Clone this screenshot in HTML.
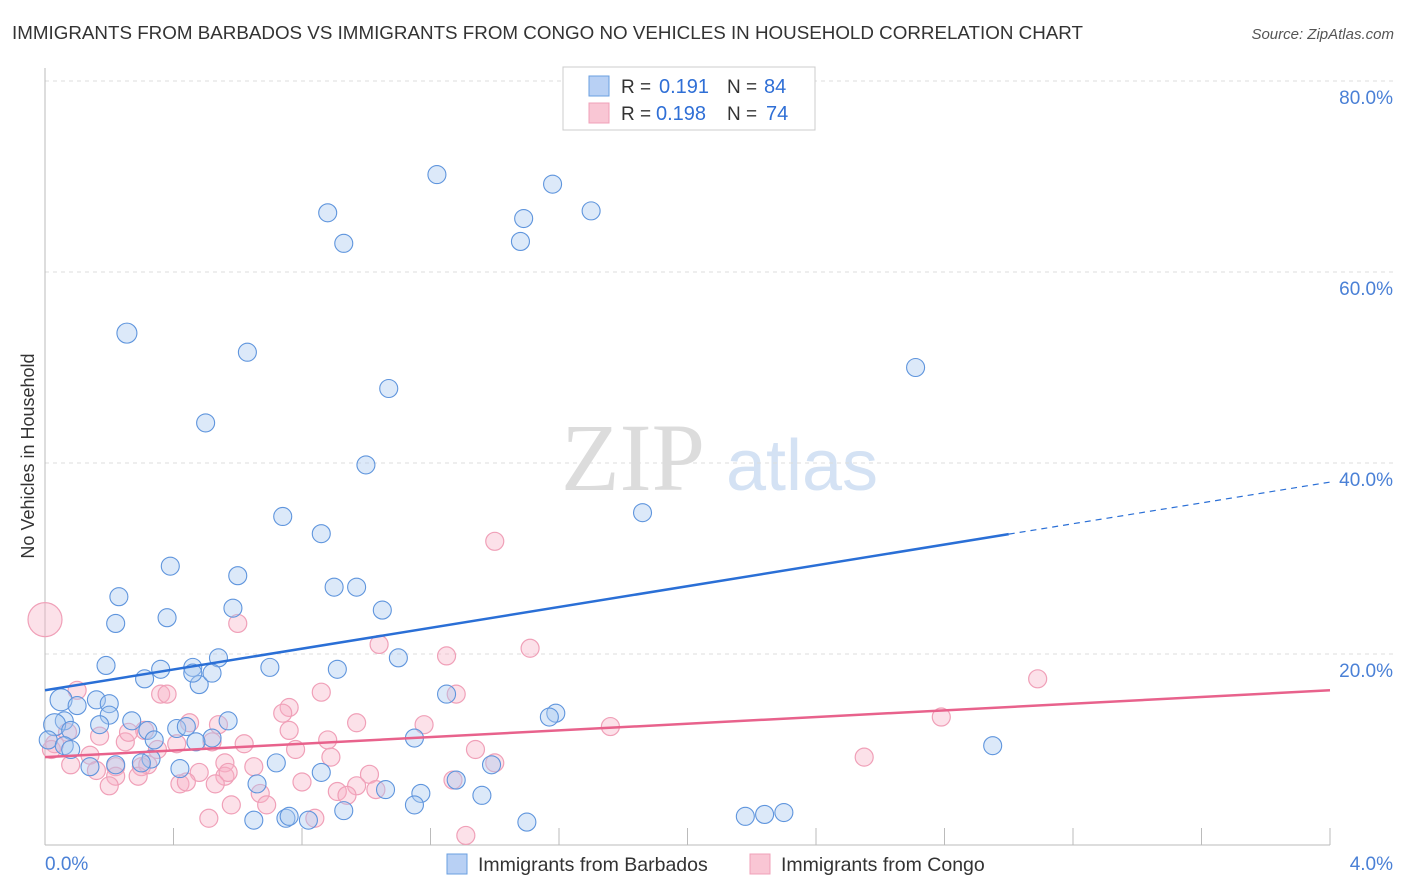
<!DOCTYPE html>
<html><head><meta charset="utf-8"><style>
body{margin:0;background:#fff;font-family:"Liberation Sans",sans-serif}
</style></head><body>
<svg id="c" width="1406" height="892" xmlns="http://www.w3.org/2000/svg" style="position:absolute;left:0;top:0">
<text x="12" y="39" font-size="18.5" fill="#333" textLength="1071" lengthAdjust="spacingAndGlyphs">IMMIGRANTS FROM BARBADOS VS IMMIGRANTS FROM CONGO NO VEHICLES IN HOUSEHOLD CORRELATION CHART</text>
<text x="1394" y="39" font-size="15" fill="#555" font-style="italic" text-anchor="end">Source: ZipAtlas.com</text>
<g>
<text x="633" y="490" font-size="96" fill="#dcdcdc" font-family="Liberation Serif,serif" text-anchor="middle">ZIP</text>
<text x="802" y="490" font-size="72" fill="#d4e2f4" text-anchor="middle">atlas</text></g>
<g id="grid"></g><g id="axes"></g><g id="pts"></g><g id="trend"></g>
<text transform="translate(34,456) rotate(-90)" font-size="18" fill="#333" text-anchor="middle">No Vehicles in Household</text>
<g>
<rect x="563" y="67" width="252" height="63" fill="#fff" stroke="#ccc"/>
<rect x="589" y="76" width="20" height="20" fill="#b8d0f4" stroke="#6a9fe0"/>
<rect x="589" y="103" width="20" height="20" fill="#f9c6d4" stroke="#f0a0b8"/>
<text x="621" y="93" font-size="19" fill="#333">R =</text><text x="659" y="93" font-size="20" fill="#2f6fd6">0.191</text>
<text x="727" y="93" font-size="19" fill="#333">N =</text><text x="764" y="93" font-size="20" fill="#2f6fd6">84</text>
<text x="621" y="120" font-size="19" fill="#333">R =</text><text x="656" y="120" font-size="20" fill="#2f6fd6">0.198</text>
<text x="727" y="120" font-size="19" fill="#333">N =</text><text x="766" y="120" font-size="20" fill="#2f6fd6">74</text>
</g>
<g>
<rect x="447" y="854" width="20" height="20" fill="#b8d0f4" stroke="#6a9fe0"/>
<text x="478" y="871" font-size="19.5" fill="#333">Immigrants from Barbados</text>
<rect x="750" y="854" width="20" height="20" fill="#f9c6d4" stroke="#f0a0b8"/>
<text x="781" y="871" font-size="19.5" fill="#333">Immigrants from Congo</text>
</g>
</svg>
<script>
const xTicks=[0,4];
const yTicks=[20,40,60,80];
const blueX=[0.255,1.22,1.58,1.70,0.88,1.49,1.48,0.93,0.63,2.71,1.07,0.50,0.999,1.86,0.74,0.86,0.39,0.60,0.90,0.97,0.23,0.585,1.05,0.38,0.22,1.10,0.19,0.54,0.70,0.91,0.36,0.46,0.31,0.48,0.52,1.59,1.57,1.25,0.05,0.16,0.10,0.20,0.20,0.27,0.06,0.03,0.08,0.57,0.17,0.32,0.41,0.44,1.15,2.95,0.52,0.47,0.34,0.01,0.06,0.08,0.33,0.30,0.14,0.22,0.42,0.72,0.86,1.39,0.66,1.06,1.28,1.17,1.15,1.36,0.93,0.75,0.65,0.76,0.82,1.50,2.18,2.24,2.30,0.46];
const blueY=[53.6,70.2,69.2,66.4,66.2,65.6,63.2,63.0,51.6,50.0,47.8,44.2,39.8,34.8,34.4,32.6,29.2,28.2,27.0,27.0,26.0,24.8,24.6,23.8,23.2,19.6,18.8,19.6,18.6,18.4,18.4,18.6,17.4,16.8,18.0,13.8,13.4,15.8,15.2,15.2,14.6,14.8,13.6,13.0,13.0,12.6,12.0,13.0,12.6,12.0,12.2,12.4,11.2,10.4,11.2,10.8,11.0,11.0,10.4,10.0,9.0,8.6,8.2,8.4,8.0,8.6,7.6,8.4,6.4,5.8,6.8,5.4,4.2,5.2,3.6,2.8,2.6,3.0,2.6,2.4,3.0,3.2,3.4,18.0];
const blueR=[10,9,9,9,9,9,9,9,9,9,9,9,9,9,9,9,9,9,9,9,9,9,9,9,9,9,9,9,9,9,9,9,9,9,9,9,9,9,11,9,9,9,9,9,9,11,9,9,9,9,9,9,9,9,9,9,9,9,9,9,9,9,9,9,9,9,9,9,9,9,9,9,9,9,9,9,9,9,9,9,9,9,9,9];
const pinkX=[0.0,1.40,1.04,1.51,1.25,0.60,3.09,0.86,1.28,0.10,0.36,0.38,0.76,0.74,0.54,2.79,1.76,1.18,0.97,0.45,0.07,0.31,0.76,0.17,0.25,0.26,0.52,0.41,0.35,0.62,0.88,0.78,0.03,0.14,0.02,0.89,1.34,2.55,0.56,0.65,0.30,0.32,1.40,0.08,0.22,0.48,0.56,0.57,0.22,0.16,0.42,0.44,0.20,0.53,0.29,0.80,1.01,0.91,0.67,0.97,1.03,1.27,0.69,0.58,0.94,0.51,0.84,1.31];
const pinkY=[23.6,31.8,21.0,20.6,19.8,23.2,17.4,16.0,15.8,16.2,15.8,15.8,14.4,13.8,12.6,13.4,12.4,12.6,12.8,12.8,11.8,12.0,12.0,11.4,10.8,11.8,10.8,10.6,10.0,10.6,11.0,10.0,10.6,9.4,10.0,9.2,10.0,9.2,8.6,8.2,8.2,8.4,8.6,8.4,8.2,7.6,7.2,7.6,7.2,7.8,6.4,6.6,6.2,6.4,7.2,6.6,7.4,5.6,5.4,6.2,5.8,6.8,4.2,4.2,5.2,2.8,2.8,1.0];
const blueTrend=[16.2,38.0], pinkTrend=[9.2,16.2];
const svg=document.getElementById('c'),NS='http://www.w3.org/2000/svg';
const X=v=>45+v/4*1285, Y=v=>845-v*9.55;
function mk(tag,parent,at){const e=document.createElementNS(NS,tag);for(const k in at)e.setAttribute(k,at[k]);document.getElementById(parent).appendChild(e);return e;}
yTicks.forEach(t=>{
 const g=mk('line','grid',{x1:45,x2:1395,y1:Y(t),y2:Y(t),stroke:'#ddd','stroke-dasharray':'4,4'});
 
 
 const l=mk('text','grid',{x:1393,y:Y(t)+23,'font-size':19,fill:'#4a80d6','text-anchor':'end'});l.textContent=t.toFixed(1)+'%';
 
 
});
mk('line','axes',{x1:45,x2:1330,y1:845,y2:845,stroke:'#bbb'});
mk('line','axes',{x1:45,x2:45,y1:68,y2:845,stroke:'#bbb'});
for(let i=1;i<=10;i++){const x=X(i*0.4);const t=mk('line','axes',{x1:x,x2:x,y1:828,y2:845,stroke:'#bbb'});
 
 }
xTicks.forEach((t,i)=>{const l=mk('text','axes',{x:i?1393:45,y:870,'font-size':19,fill:'#4a80d6','text-anchor':i?'end':'start'});l.textContent=t.toFixed(1)+'%';
 
 });
pinkX.forEach((v,i)=>{const c=mk('circle','pts',{cx:X(v),cy:Y(pinkY[i]),r:i==0?17:9,fill:'rgba(248,175,198,0.38)',stroke:'#f0a0b8','stroke-width':1.2});
 
 });
blueX.forEach((v,i)=>{const c=mk('circle','pts',{cx:X(v),cy:Y(blueY[i]),r:blueR[i],fill:'rgba(168,200,240,0.4)',stroke:'#5f95dd','stroke-width':1.1});
 
 });
const by=x=>blueTrend[0]+(blueTrend[1]-blueTrend[0])*x/4;
let a=mk('line','trend',{x1:X(0),y1:Y(by(0)),x2:X(3.0),y2:Y(by(3.0)),stroke:'#2a6fd6','stroke-width':2.5});


a=mk('line','trend',{x1:X(3.0),y1:Y(by(3.0)),x2:X(4),y2:Y(by(4)),stroke:'#2a6fd6','stroke-width':1.2,'stroke-dasharray':'6,5'});


a=mk('line','trend',{x1:X(0),y1:Y(pinkTrend[0]),x2:X(4),y2:Y(pinkTrend[1]),stroke:'#e8628c','stroke-width':2.5});


</script>
</body></html>
